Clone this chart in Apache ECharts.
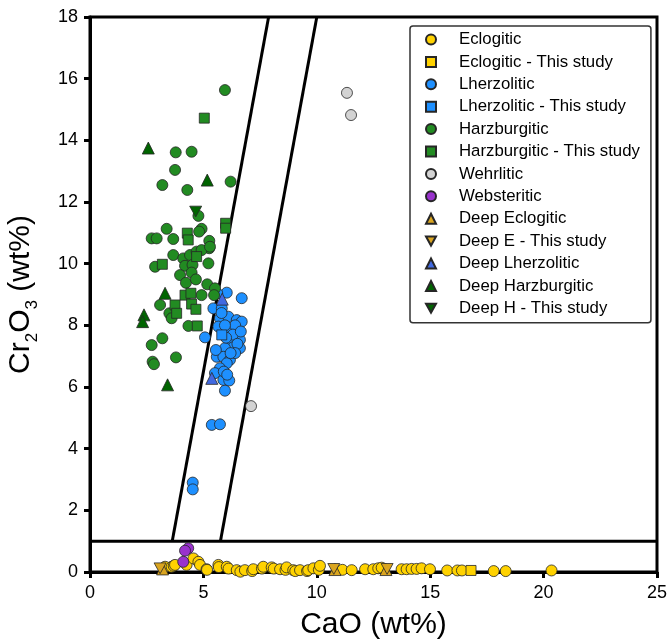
<!DOCTYPE html>
<html>
<head>
<meta charset="utf-8">
<script src="https://cdn.jsdelivr.net/npm/echarts@6/dist/echarts.min.js"></script>
<style>
  html, body { margin: 0; padding: 0; background: #fff; }
  #chart { width: 672px; height: 642px; }
</style>
</head>
<body>
<div id="chart"></div>
<script>
// Garnet CaO vs Cr2O3 classification plot (wt%)

// ---- point data: [CaO, Cr2O3] ----
const eclogitic = [
  [3.31,0.17],[3.60,0.17],[3.69,0.20],[3.75,0.23],[4.26,0.23],[4.56,0.44],[4.78,0.33],[4.85,0.23],
  [5.14,0.09],[5.16,0.07],[5.66,0.23],[5.68,0.16],[6.03,0.17],[6.11,0.11],[6.47,0.06],[6.63,0.01],
  [6.83,0.06],[7.15,0.03],[7.20,0.09],[7.58,0.11],[7.64,0.17],[8.01,0.15],[8.10,0.11],[8.38,0.09],
  [8.62,0.07],[8.67,0.15],[8.96,0.06],[9.05,0.03],[9.26,0.06],[9.57,0.03],[9.62,0.06],[9.85,0.12],
  [10.09,0.07],[10.14,0.20],[11.13,0.07],[11.54,0.06],[12.13,0.09],[12.49,0.09],[12.71,0.12],
  [12.86,0.14],[13.74,0.09],[13.96,0.09],[14.18,0.10],[14.40,0.10],[14.62,0.12],[14.99,0.09],
  [15.75,0.05],[16.20,0.05],[16.40,0.05],[17.80,0.03],[18.33,0.03],[20.35,0.05]
];
const eclogiticThisStudy = [[16.80,0.05]];
const lherzolitic = [
  [6.03,9.06],[6.69,8.88],[5.44,8.55],[5.81,8.55],[5.61,9.04],[5.73,8.23],[6.10,8.28],[6.47,8.17],
  [6.69,8.12],[5.66,7.96],[6.17,7.85],[6.61,7.53],[6.17,7.53],[5.07,7.61],[6.32,7.29],[5.95,7.26],
  [6.61,7.26],[5.59,6.98],[5.88,6.98],[6.17,6.88],[6.03,6.77],[5.73,6.61],[5.51,6.45],[5.88,6.23],
  [6.14,6.21],[5.95,5.88],[6.40,8.00],[6.30,7.70],[6.50,7.40],[6.00,7.60],[6.40,7.10],[6.20,7.10],
  [5.90,6.50],[6.05,6.40],[5.80,8.40],[5.55,7.20],[5.95,8.00],[6.65,7.80],
  [5.37,4.77],[5.73,4.79],[4.53,2.90],[4.53,2.68]
];
const lherzoliticThisStudy = [[5.81,7.69]];
const harzburgitic = [
  [5.95,15.63],[3.78,13.61],[4.48,13.63],[3.75,13.04],[3.19,12.55],[4.29,12.39],[6.20,12.66],
  [4.78,11.55],[3.38,11.13],[4.92,11.13],[4.81,11.04],[2.72,10.82],[2.94,10.82],[3.67,10.80],
  [5.26,10.74],[5.26,10.50],[3.67,10.28],[4.11,10.17],[4.41,10.28],[4.70,10.39],[4.92,10.44],
  [5.29,10.55],[5.22,10.01],[2.87,9.90],[4.19,9.93],[4.52,9.96],[3.97,9.63],[4.48,9.71],
  [4.23,9.38],[4.67,9.49],[5.17,9.33],[5.51,9.20],[5.47,8.98],[4.92,8.98],[3.09,8.66],
  [3.50,8.39],[3.60,8.23],[4.34,7.98],[3.19,7.58],[2.72,7.36],[3.79,6.96],[2.76,6.82],[2.82,6.74]
];
const harzburgiticThisStudy = [
  [5.04,14.72],[5.98,11.31],[5.98,11.15],[4.29,10.99],[4.33,10.77],[4.70,10.23],[3.19,9.98],
  [4.19,8.98],[4.45,9.04],[3.75,8.66],[4.48,8.69],[4.67,8.52],[3.82,8.39],[4.73,7.98]
];
const wehrlitic = [[11.33,15.54],[11.51,14.82],[7.10,5.38]];
const websteritic = [[4.33,0.77],[4.19,0.69],[4.11,0.33]];
const deepEclogitic = [[3.20,0.10],[10.80,0.08],[13.05,0.08]];
const deepEThisStudy = [[3.09,0.12],[10.75,0.10],[13.10,0.10]];
const deepLherzolitic = [[5.83,8.85],[5.37,6.28]];
const deepHarzburgitic = [[2.57,13.75],[5.17,12.71],[3.31,9.04],[2.38,8.34],[2.32,8.12],[3.42,6.07]];
const deepHThisStudy = [[4.66,11.69]];

// ---- field boundaries ----
const lherzTrendLower = [[3.625,1],[7.875,18]];
const lherzTrendUpper = [[5.75,1],[10,18]];
const eclogiteCutoff = [[0,1],[25,1]];

// ---- axis ticks ----
const xTicks = { min: 0, max: 25, interval: 5 };
const yTicks = { min: 0, max: 18, interval: 2 };

const FONT = 'Liberation Sans, Arial, Helvetica, sans-serif';
const DOWN_TRI = 'path://M0,0L20,0L10,18Z';

function pts(name, data, symbol, size, color) {
  return {
    name, type: 'scatter', data, symbol, symbolSize: size, symbolKeepAspect: true,
    itemStyle: { color, borderColor: '#262626', borderWidth: 0.8, opacity: 1 },
    emphasis: { disabled: true }, z: 3
  };
}
function boundary(data) {
  return {
    type: 'line', data, symbol: 'none', silent: true, z: 2,
    lineStyle: { color: '#000', width: 3 }, emphasis: { disabled: true }
  };
}

const series = [
  boundary(lherzTrendLower),
  boundary(lherzTrendUpper),
  boundary(eclogiteCutoff),
  pts('Eclogitic', eclogitic, 'circle', 11, '#FFD200'),
  pts('Eclogitic - This study', eclogiticThisStudy, 'rect', 10, '#FFD200'),
  pts('Lherzolitic', lherzolitic, 'circle', 11, '#1E90FF'),
  pts('Lherzolitic - This study', lherzoliticThisStudy, 'rect', 10, '#1E90FF'),
  pts('Harzburgitic', harzburgitic, 'circle', 11, '#228B22'),
  pts('Harzburgitic - This study', harzburgiticThisStudy, 'rect', 10, '#228B22'),
  pts('Wehrlitic', wehrlitic, 'circle', 11, '#D3D3D3'),
  pts('Websteritic', websteritic, 'circle', 11, '#9932CC'),
  pts('Deep Eclogitic', deepEclogitic, 'triangle', 12, '#DAA520'),
  pts('Deep E - This study', deepEThisStudy, DOWN_TRI, 12, '#DAA520'),
  pts('Deep Lherzolitic', deepLherzolitic, 'triangle', 12, '#4169E1'),
  pts('Deep Harzburgitic', deepHarzburgitic, 'triangle', 12, '#006400'),
  pts('Deep H - This study', deepHThisStudy, DOWN_TRI, 12, '#006400')
];

const chart = echarts.init(document.getElementById('chart'), null, { renderer: 'canvas' });
chart.setOption({
  animation: false,
  backgroundColor: '#fff',
  textStyle: { fontFamily: FONT, color: '#000' },
  grid: {
    left: 90, right: 15, top: 17, bottom: 70,
    containLabel: false, outerBoundsMode: 'none',
    show: true, borderColor: '#000', borderWidth: 3, backgroundColor: 'transparent'
  },
  legend: {
    orient: 'vertical', left: 410, top: 26,
    padding: [5, 11, 6, 15], itemGap: 5.4, itemWidth: 10, itemHeight: 10,
    backgroundColor: '#fff', borderColor: '#333', borderWidth: 1.5, borderRadius: 3,
    selectedMode: false,
    textStyle: { fontFamily: FONT, fontSize: 16.8, color: '#000', lineHeight: 16, padding: [0, 0, 0, 18] },
    data: series.filter(s => s.name).map(s => s.name)
  },
  xAxis: {
    type: 'value', min: xTicks.min, max: xTicks.max, interval: xTicks.interval,
    name: 'CaO (wt%)', nameLocation: 'middle', nameGap: 38,
    nameTextStyle: { fontFamily: FONT, fontSize: 30, color: '#000' },
    axisLine: { show: true, onZero: false, lineStyle: { color: '#000', width: 3 } },
    axisTick: { show: true, inside: false, length: 6, lineStyle: { color: '#000', width: 3 } },
    axisLabel: { fontFamily: FONT, fontSize: 18, color: '#000', margin: 12 },
    splitLine: { show: false }
  },
  yAxis: {
    type: 'value', min: yTicks.min, max: yTicks.max, interval: yTicks.interval,
    name: '{m|Cr}{s|2}{m|O}{s|3}{m| (wt%)}', nameLocation: 'middle', nameGap: 49,
    nameTextStyle: {
      fontFamily: FONT, color: '#000',
      rich: {
        m: { fontFamily: FONT, fontSize: 30, lineHeight: 41, color: '#000' },
        s: { fontFamily: FONT, fontSize: 17, lineHeight: 17, verticalAlign: 'bottom', color: '#000' }
      }
    },
    axisLine: { show: true, onZero: false, lineStyle: { color: '#000', width: 3 } },
    axisTick: { show: true, inside: false, length: 6, lineStyle: { color: '#000', width: 3 } },
    axisLabel: { fontFamily: FONT, fontSize: 18, color: '#000', margin: 12 },
    splitLine: { show: false }
  },
  series
});
</script>
</body>
</html>
